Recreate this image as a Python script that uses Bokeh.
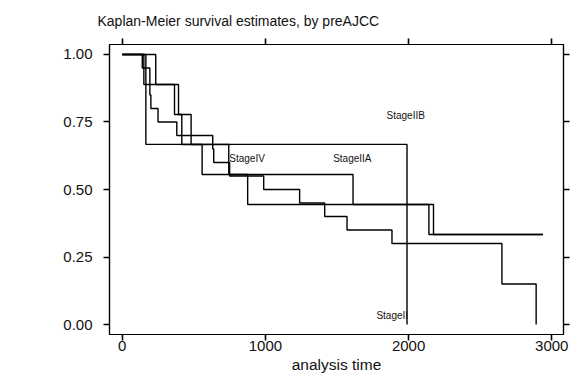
from bokeh.plotting import figure
from bokeh.models import Range1d, LinearAxis, FixedTicker, ColumnDataSource
from bokeh.core.properties import value
from bokeh.embed import file_html
from bokeh.resources import INLINE

# Kaplan-Meier step data (time, survival)
stageIIB_t = [0, 165, 1989]
stageIIB_s = [1.0, 0.667, 0.0]

stageII_t = [0, 140, 193, 200, 250, 381, 632, 639, 750, 988, 1239, 1414, 1570, 1884, 2652, 2891]
stageII_s = [1.0, 0.95, 0.85, 0.80, 0.75, 0.70, 0.65, 0.60, 0.55, 0.50, 0.45, 0.40, 0.35, 0.30, 0.15, 0.0]

stageIV_t = [0, 151, 365, 416, 558, 876, 2142, 2938]
stageIV_s = [1.0, 8/9, 7/9, 6/9, 5/9, 4/9, 3/9, 3/9]

stageIIA_t = [0, 234, 393, 481, 744, 1612, 2174, 2938]
stageIIA_s = [1.0, 8/9, 7/9, 6/9, 5/9, 4/9, 3/9, 3/9]

label_text = ["StageIIB", "StageIV", "StageIIA", "StageII"]
label_t = [1980, 872, 1607, 1886]
label_s = [0.774, 0.615, 0.615, 0.033]

x_ticks = [0, 1000, 2000, 3000]
y_ticks = [0, 0.25, 0.5, 0.75, 1.0]
y_tick_labels = ["0.00", "0.25", "0.50", "0.75", "1.00"]

TITLE = "Kaplan-Meier survival estimates, by preAJCC"
FONT = "Liberation Sans"

p = figure(width=580, height=378, output_backend="svg", toolbar_location=None,
           x_range=Range1d(-89, 3082), y_range=Range1d(-0.037, 1.037),
           min_border_left=109, min_border_right=17, min_border_top=43, min_border_bottom=44,
           title=TITLE)
p.background_fill_color = "white"
p.border_fill_color = "white"
p.outline_line_color = "black"
p.outline_line_width = 1.2
p.xgrid.visible = False
p.ygrid.visible = False

p.title.text_font = FONT
p.title.text_font_size = "14px"
p.title.text_font_style = "normal"
p.title.text_color = "#111111"
p.title.align = "left"
p.title.offset = -12
p.title.standoff = 20

for xs, ys in [(stageIIB_t, stageIIB_s), (stageII_t, stageII_s),
               (stageIV_t, stageIV_s), (stageIIA_t, stageIIA_s)]:
    p.step(xs, ys, mode="after", line_color="black", line_width=1.4)

src = ColumnDataSource(dict(x=label_t, y=label_s, t=label_text))
p.text(x="x", y="y", text="t", source=src, text_align="center", text_baseline="middle",
       text_font=value(FONT), text_font_size="10px", text_color="#111111")

def style_axis(ax, ticks, labels=None):
    ax.axis_line_color = "black"
    ax.axis_line_width = 1.2
    ax.major_tick_line_color = "black"
    ax.major_tick_line_width = 1.6
    ax.major_tick_out = 6
    ax.major_tick_in = 0
    ax.minor_tick_line_color = None
    ax.major_label_text_font = FONT
    ax.major_label_text_color = "#111111"
    if labels is None:
        ax.major_label_overrides = {t: "" for t in ticks}
        ax.major_label_text_font_size = "1px"
        ax.major_label_standoff = 0
    else:
        ax.major_label_overrides = {t: l for t, l in zip(ticks, labels)}

xa = p.xaxis[0]
xa.ticker = FixedTicker(ticks=x_ticks)
style_axis(xa, x_ticks, [str(t) for t in x_ticks])
xa.major_label_text_font_size = "15px"
xa.major_label_standoff = 0
xa.axis_label = "analysis time"
xa.axis_label_text_font = FONT
xa.axis_label_text_font_size = "15.5px"
xa.axis_label_text_font_style = "normal"
xa.axis_label_text_color = "#111111"
xa.axis_label_standoff = 2

ya = p.yaxis[0]
ya.ticker = FixedTicker(ticks=y_ticks)
style_axis(ya, y_ticks, y_tick_labels)
ya.major_label_text_font_size = "15px"
ya.major_label_standoff = 11
ya.major_label_orientation = "horizontal"

top = LinearAxis(ticker=FixedTicker(ticks=x_ticks))
style_axis(top, x_ticks)
p.add_layout(top, "above")

right = LinearAxis(ticker=FixedTicker(ticks=y_ticks))
style_axis(right, y_ticks)
p.add_layout(right, "right")

open("out.html", "w").write(file_html(p, INLINE))
